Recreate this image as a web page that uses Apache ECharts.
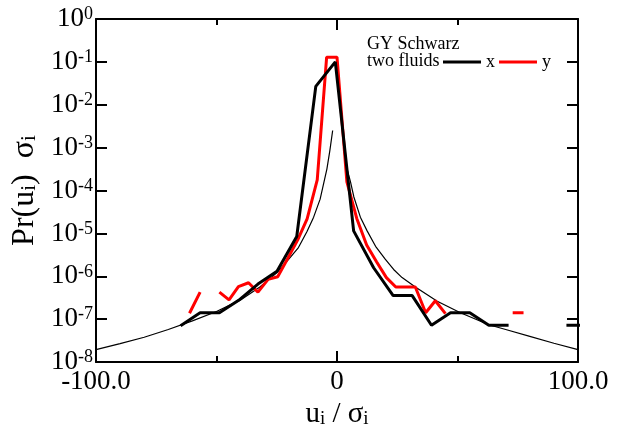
<!DOCTYPE html>
<html><head><meta charset="utf-8">
<script src="https://cdn.jsdelivr.net/npm/echarts@6/dist/echarts.min.js"></script>
<style>html,body{margin:0;padding:0;background:#fff}#c{width:628px;height:434px}</style>
</head><body><div id="c"></div>
<script>
// x tick labels
const xTickLabels = {'-100': '-100.0', '0': '0', '100': '100.0'};
// "x" component (thick black): x positions and log10 of Pr
const blackX   = [-64.9, -56.8, -48.8, -40.8, -32.8, -24.9, -16.7, -8.8, -0.7, 6.9, 15.2, 23.3, 31.2, 39.2, 47.1, 55.1, 63.0, 71.2, 83.0, 95.2, 103.2];
const blackExp = [-7.15, -6.85, -6.85, -6.56, -6.18, -5.88, -5.07, -1.57, -1.00, -4.94, -5.80, -6.45, -6.45, -7.14, -6.85, -6.85, -7.14, -7.14, null, -7.14, -7.14];
// "y" component (red)
const redX   = [-61.2, -56.8, -52.8, -48.8, -44.8, -40.9, -36.7, -32.8, -28.6, -24.6, -20.4, -16.3, -12.4, -8.2, -4.3, 0.0, 4.1, 8.2, 12.3, 16.4, 20.5, 24.4, 28.5, 32.5, 36.8, 40.8, 45.0, 60.0, 72.9, 77.4];
const redExp = [-6.86, -6.37, null, -6.37, -6.55, -6.24, -6.15, -6.37, -6.07, -6.01, -5.58, -5.15, -4.66, -3.75, -0.89, -0.89, -3.80, -4.65, -5.27, -5.66, -6.03, -6.25, -6.25, -6.25, -6.85, -6.57, -6.87, null, -6.85, -6.85];
// thin reference curve
const fitX   = [-100, -90, -80, -70, -60, -50, -40, -32, -25, -20, -16, -12.5, -9.7, -7, -5.6, -4.2, -3, -1.8, 0, 3, 4.2, 5.6, 7, 9.7, 12.5, 16, 20, 23.5, 27, 32.5, 41.6, 51.2, 63, 70, 80, 90, 100];
const fitExp = [-7.71, -7.57, -7.42, -7.24, -7.04, -6.82, -6.55, -6.25, -5.92, -5.60, -5.33, -4.96, -4.62, -4.20, -3.85, -3.50, -3.08, -2.60, null, -3.08, -3.50, -3.80, -4.15, -4.62, -4.94, -5.30, -5.60, -5.84, -6.03, -6.25, -6.58, -6.85, -7.13, -7.24, -7.40, -7.56, -7.71];

function toData(xs, es) {
  return xs.map((x, i) => es[i] === null ? [x, '-'] : [x, Math.pow(10, es[i])]);
}
const FONT = 'Liberation Serif';
const chart = echarts.init(document.getElementById('c'), null, {renderer: 'canvas'});
const frameLine = {show: true, onZero: false, lineStyle: {color: '#000', width: 2}};
const tick = {show: true, inside: true, length: 11, lineStyle: {color: '#000', width: 2}};
const minor = {show: true, splitNumber: 2, length: 6, lineStyle: {color: '#000', width: 2}};
chart.setOption({
  animation: false,
  backgroundColor: '#fff',
  grid: {left: 96, right: 50, top: 19, bottom: 71, containLabel: false},
  xAxis: [{
    type: 'value', min: -100, max: 100, interval: 100,
    axisLine: frameLine, axisTick: tick, minorTick: minor,
    splitLine: {show: false}, minorSplitLine: {show: false},
    axisLabel: {show: true, margin: 6, color: '#000', fontFamily: FONT, fontSize: 27,
      formatter: v => xTickLabels[String(v)] },
    name: '{a|u}{s|i}{a| / σ}{s|i}', nameLocation: 'middle', nameGap: 35,
    nameTextStyle: {rich: {
      a: {fontFamily: FONT, fontSize: 29, color: '#000'},
      s: {fontFamily: FONT, fontSize: 19, color: '#000', verticalAlign: 'bottom'}
    }}
  }, {
    type: 'value', position: 'top', min: -100, max: 100, interval: 100,
    axisLine: frameLine, axisTick: tick, minorTick: minor,
    splitLine: {show: false}, axisLabel: {show: false}
  }],
  yAxis: [{
    type: 'log', logBase: 10, min: 1e-8, max: 1, splitNumber: 8,
    axisLine: frameLine, axisTick: tick,
    splitLine: {show: false},
    axisLabel: {show: true, margin: 3, color: '#000',
      formatter: v => '{b|10}{s|' + Math.round(Math.log10(v)) + '}',
      rich: {
        b: {fontFamily: FONT, fontSize: 27, color: '#000'},
        s: {fontFamily: FONT, fontSize: 18, color: '#000', verticalAlign: 'top'}
      }},
    name: '{a|Pr(u}{s|i}{a|)  σ}{s|i}', nameLocation: 'middle', nameGap: 52,
    nameTextStyle: {rich: {
      a: {fontFamily: FONT, fontSize: 32, color: '#000'},
      s: {fontFamily: FONT, fontSize: 21, color: '#000', verticalAlign: 'bottom'}
    }}
  }, {
    type: 'log', logBase: 10, min: 1e-8, max: 1, splitNumber: 8, position: 'right',
    axisLine: frameLine, axisTick: tick,
    splitLine: {show: false}, axisLabel: {show: false}
  }],
  legend: {
    data: ['x', 'y'], left: 443, top: 53, icon: 'rect', itemWidth: 38, itemHeight: 3,
    itemGap: 4, padding: 0,
    textStyle: {fontFamily: FONT, fontSize: 18, color: '#000', padding: [0, 0, 4, 0]}
  },
  graphic: [
    {type: 'text', left: 367, top: 35, style: {text: 'GY Schwarz', font: '18px "Liberation Serif"', fill: '#000'}},
    {type: 'text', left: 367, top: 52, style: {text: 'two fluids', font: '18px "Liberation Serif"', fill: '#000'}}
  ],
  series: [
    {name: 'fit', type: 'line', data: toData(fitX, fitExp), showSymbol: false, symbol: 'none',
     lineStyle: {color: '#000', width: 1.2}, connectNulls: false, z: 1},
    {name: 'x', type: 'line', data: toData(blackX, blackExp), showSymbol: false, symbol: 'none',
     itemStyle: {color: '#000'}, lineStyle: {color: '#000', width: 3}, connectNulls: false, z: 3},
    {name: 'y', type: 'line', data: toData(redX, redExp), showSymbol: false, symbol: 'none',
     itemStyle: {color: '#ff0000'}, lineStyle: {color: '#ff0000', width: 3}, connectNulls: false, z: 2}
  ]
});
</script></body></html>
